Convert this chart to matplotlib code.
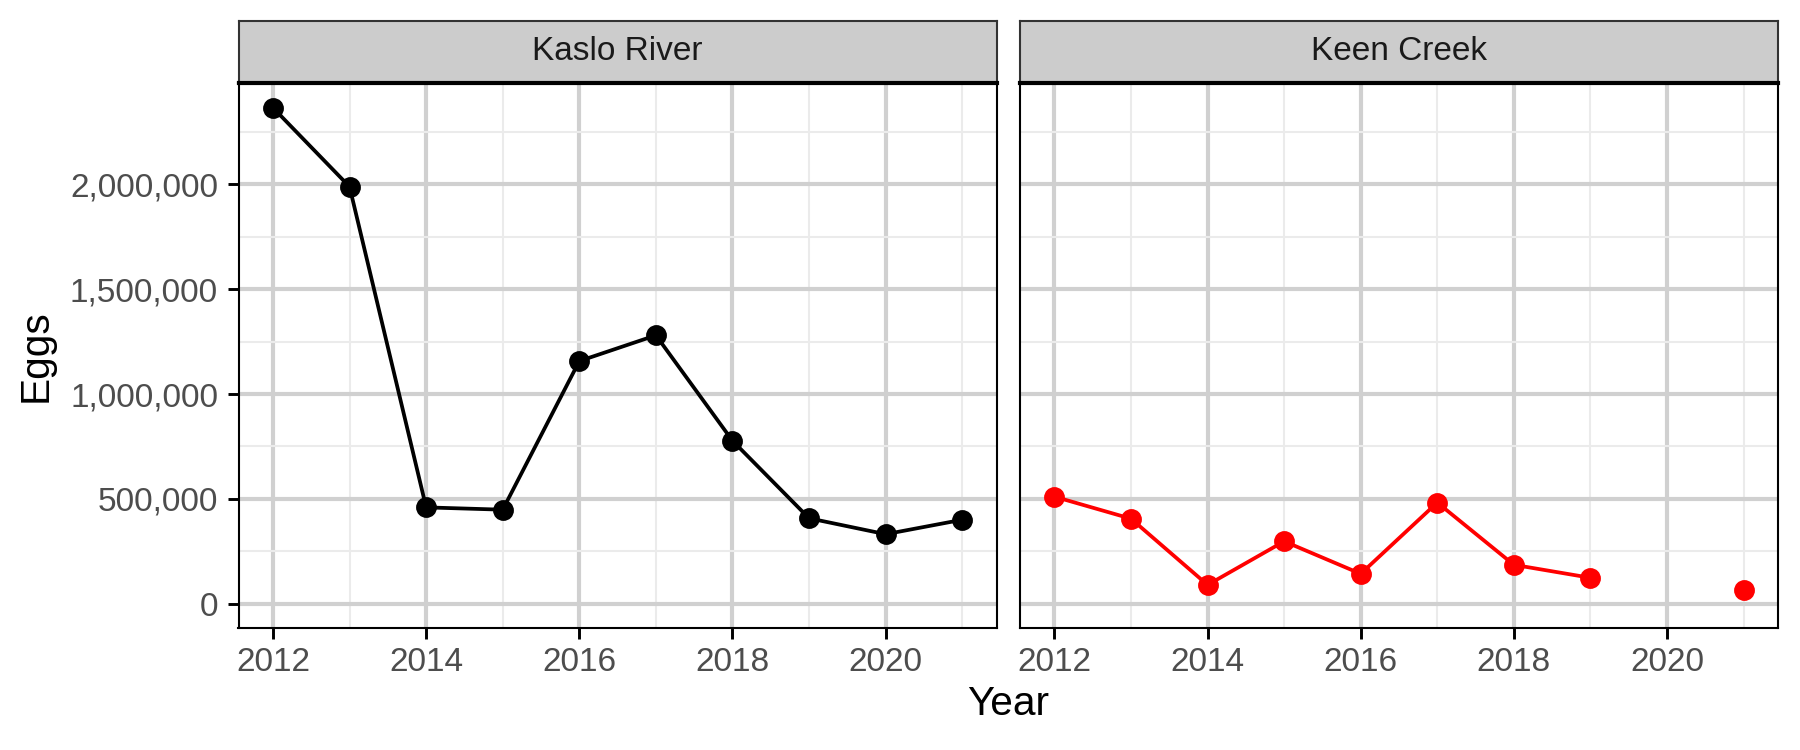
import numpy as np
import matplotlib
matplotlib.use("Agg")
from matplotlib import pyplot as plt
from matplotlib.ticker import FuncFormatter, MultipleLocator

plt.rcParams['font.family'] = ['Liberation Sans', 'DejaVu Sans']

years = [2012, 2013, 2014, 2015, 2016, 2017, 2018, 2019, 2020, 2021]
kaslo = [2366000, 1989000, 459000, 448000, 1157000, 1280000, 777000, 407000, 331000, 400000]
keen = [510000, 405000, 89000, 297000, 142000, 482000, 185000, 123000, np.nan, 66000]
sites = ["Kaslo River", "Keen Creek"]
colors = ["black", "red"]

W, H = 1800, 750
fig = plt.figure(figsize=(12, 5), dpi=150)

panels = [(238.5, 996.7), (1020, 1778)]
ptop, pbot, stop = 83, 628.3, 21

def comma(v, pos):
    return "{:,.0f}".format(v)

for i, (site, vals, col) in enumerate(zip(sites, [kaslo, keen], colors)):
    x0, x1 = panels[i]
    ax = fig.add_axes([x0 / W, 1 - pbot / H, (x1 - x0) / W, (pbot - ptop) / H])
    ax.plot(years, vals, color=col, lw=1.8, marker="o", ms=9, zorder=3)
    ax.set_xlim(2011.55, 2021.45)
    ax.set_ylim(-118000, 2484000)
    ax.xaxis.set_major_locator(MultipleLocator(2))
    ax.xaxis.set_minor_locator(MultipleLocator(1))
    ax.yaxis.set_major_locator(MultipleLocator(500000))
    ax.yaxis.set_minor_locator(MultipleLocator(250000))
    ax.yaxis.set_major_formatter(FuncFormatter(comma))
    ax.grid(which="major", color="#D0D0D0", lw=2.0)
    ax.grid(which="minor", color="#EBEBEB", lw=1.0)
    ax.set_axisbelow(True)
    ax.tick_params(which="major", length=5.3, width=1.4, color="black",
                   labelsize=16, labelcolor="#4D4D4D")
    ax.tick_params(axis="y", pad=4.5)
    ax.tick_params(axis="x", pad=3.5)
    ax.tick_params(which="minor", length=0)
    if i == 1:
        ax.tick_params(axis="y", which="both", left=False, labelleft=False)
    for s in ax.spines.values():
        s.set_color("black")
        s.set_linewidth(1.0)

    sx = fig.add_axes([x0 / W, 1 - ptop / H, (x1 - x0) / W, (ptop - stop) / H])
    sx.set_facecolor("#CCCCCC")
    sx.set_xticks([])
    sx.set_yticks([])
    for s in sx.spines.values():
        s.set_color("#333333")
        s.set_linewidth(1.0)
    sx.spines["bottom"].set_color("black")
    sx.spines["bottom"].set_linewidth(2.0)
    sx.text(0.5, 0.5, site, ha="center", va="center", fontsize=16,
            color="#1A1A1A", transform=sx.transAxes)

fig.text((238.5 + 1778) / 2 / W, 1 - 704 / H, "Year", ha="center", va="center",
         fontsize=19.5, color="black")
fig.text(36 / W, 1 - 356 / H, "Eggs", ha="center", va="center", rotation=90,
         fontsize=19.5, color="black")

fig.savefig("out.png", dpi=150)
